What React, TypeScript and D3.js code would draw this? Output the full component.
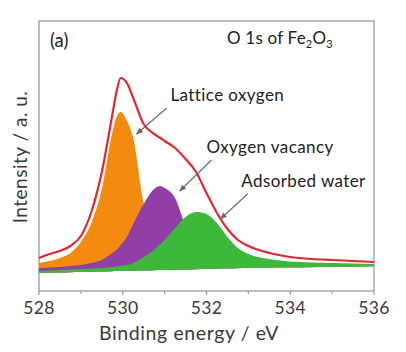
import React from "react";
import * as d3 from "d3";

// Binding energy grid (eV)
const energy = [528, 528.25, 528.5, 528.75, 529, 529.25, 529.5, 529.75, 529.85, 529.95, 530.1, 530.25, 530.5, 530.75, 530.9, 531, 531.25, 531.5, 531.75, 532, 532.25, 532.5, 532.75, 533, 533.5, 534, 534.5, 535, 535.5, 536];
// Shirley-type background
const background = [18, 18.3, 18.5, 18.8, 19, 19.3, 19.5, 19.8, 19.9, 20, 20.1, 20.3, 20.5, 20.8, 20.9, 21, 21.3, 21.5, 21.8, 22, 22.3, 22.5, 22.8, 23, 23.3, 23.5, 23.8, 24, 24.3, 24.5];
// Fitted envelope
const envelope = [33, 37, 40, 45, 55, 79, 119, 176, 199, 213, 208, 193, 167, 157, 153, 150, 143, 132, 119, 98, 78, 62, 51, 45, 38, 34, 32, 31, 30, 29];
// Components
const lattice = [28, 30, 33, 38, 49, 68, 102, 158, 174, 179, 170, 153, 88, 51, 39, 35, 29, 25, 23, 22, 22.3, 22.5, 22.8, 23, 23.3, 23.5, 23.8, 24, 24.3, 24.5];
const vacancy = [23, 23.5, 24, 25, 26, 28, 31, 38, 41, 46, 54, 67, 87, 102, 105, 103, 93, 65, 46, 36, 31, 29, 28, 27, 26, 25.5, 25.3, 25, 24.9, 24.8];
const water = [20, 20.5, 21, 21.5, 22, 22.5, 23, 24, 24.5, 25, 26, 28, 34, 41, 47, 51, 63, 74, 79, 77, 68, 54, 43, 37, 32, 29.5, 28.5, 28, 27.5, 27];

const xTicks = [528, 529, 530, 531, 532, 533, 534, 535, 536];
const xTickLabels = ["528", "", "530", "", "532", "", "534", "", "536"];

const annotations = [
  { text: "Lattice oxygen", tx: 531.14, ty: 190, x1: 531.05, y1: 183, x2: 530.33, y2: 157 },
  { text: "Oxygen vacancy", tx: 532.0, ty: 138, x1: 532.12, y1: 131, x2: 531.36, y2: 100 },
  { text: "Adsorbed water", tx: 532.83, ty: 104, x1: 532.98, y1: 97, x2: 532.33, y2: 72 },
];

const W = 406, H = 352;
const L = 39, R = 374, T = 21, B = 291;
const FONT = "Lato, 'Open Sans', sans-serif";

export default function App() {
  const x = d3.scaleLinear().domain([528, 536]).range([L, R]);
  const y = d3.scaleLinear().domain([0, 270]).range([B, T]);

  const area = (vals: number[]) =>
    d3.area<number>()
      .x((_, i) => x(energy[i]))
      .y0((_, i) => y(background[i]))
      .y1((d) => y(d))
      .curve(d3.curveMonotoneX)(vals) || "";
  const line = d3.line<number>()
    .x((_, i) => x(energy[i]))
    .y((d) => y(d))
    .curve(d3.curveMonotoneX);

  return (
    <svg width={W} height={H} style={{ position: "absolute", left: 0, top: 0, background: "#fff" }} fontFamily={FONT}>
      <defs>
        <marker id="ah" viewBox="0 0 10 10" refX="9" refY="5" markerWidth="6" markerHeight="6" orient="auto">
          <path d="M0,1 L10,5 L0,9 z" fill="#6b6b6b" />
        </marker>
      </defs>
      <rect x={L} y={T} width={R - L} height={B - T} fill="#fff" stroke="#a8a8a8" strokeWidth={1.5} />
      <path d={area(lattice)} fill="#f38b10" />
      <path d={area(vacancy)} fill="#913fa6" />
      <path d={area(water)} fill="#3db83a" />
      <path d={line(envelope) || ""} fill="none" stroke="#e52630" strokeWidth={2.2} />

      {xTicks.map((t, i) => (
        <g key={t}>
          <line x1={x(t)} x2={x(t)} y1={B} y2={B + (i % 2 === 0 ? 4 : 3)} stroke="#999" strokeWidth={1.2} />
          {xTickLabels[i] && (
            <text x={x(t)} y={314} textAnchor="middle" fontSize={17.5} letterSpacing={0.3} fill="#3a3a3a">{xTickLabels[i]}</text>
          )}
        </g>
      ))}
      <text x={189} y={340} textAnchor="middle" fontSize={19.5} letterSpacing={0.6} fill="#3a3a3a">Binding energy / eV</text>
      <text transform="translate(27,157) rotate(-90)" textAnchor="middle" fontSize={19} letterSpacing={0.5} fill="#3a3a3a">Intensity / a. u.</text>

      <text x={50} y={47} fontSize={18.5} fill="#222">(a)</text>
      <text x={227} y={44} fontSize={17} letterSpacing={0.2} fill="#222">
        O 1s of Fe<tspan fontSize={11} dy={4}>2</tspan><tspan dy={-4}>O</tspan><tspan fontSize={11} dy={4}>3</tspan>
      </text>

      {annotations.map((a) => (
        <g key={a.text}>
          <text x={x(a.tx)} y={y(a.ty)} fontSize={17} letterSpacing={0.4} fill="#222">{a.text}</text>
          <line x1={x(a.x1)} y1={y(a.y1)} x2={x(a.x2)} y2={y(a.y2)} stroke="#6b6b6b" strokeWidth={1.2} markerEnd="url(#ah)" />
        </g>
      ))}
    </svg>
  );
}
